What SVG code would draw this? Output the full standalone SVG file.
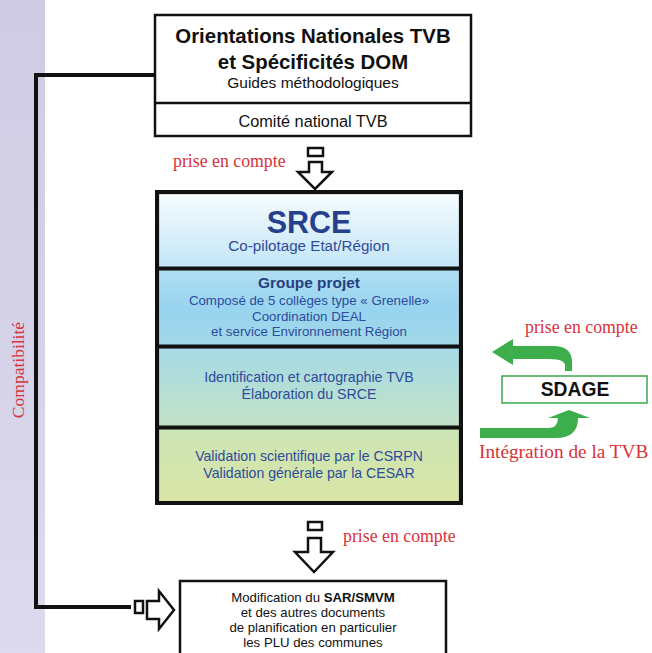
<svg xmlns="http://www.w3.org/2000/svg" width="652" height="653" viewBox="0 0 652 653">
<defs>
<linearGradient id="band" x1="0" y1="0" x2="0" y2="1"><stop offset="0" stop-color="#cecbe3"/><stop offset="1" stop-color="#dcdaec"/></linearGradient>
<linearGradient id="g1" x1="0" y1="0" x2="0" y2="1"><stop offset="0" stop-color="#f6fcff"/><stop offset="1" stop-color="#c2e5f7"/></linearGradient>
<linearGradient id="g2" x1="0" y1="0" x2="0" y2="1"><stop offset="0" stop-color="#b0def3"/><stop offset="0.5" stop-color="#98d4f0"/><stop offset="1" stop-color="#a2d8e8"/></linearGradient>
<linearGradient id="g3" x1="0" y1="0" x2="0" y2="1"><stop offset="0" stop-color="#a6dae6"/><stop offset="1" stop-color="#c2e2c6"/></linearGradient>
<linearGradient id="g4" x1="0" y1="0" x2="0" y2="1"><stop offset="0" stop-color="#cde5b6"/><stop offset="1" stop-color="#d9e5a4"/></linearGradient>
</defs>
<style>
.sans{font-family:"Liberation Sans",Arial,sans-serif}
.serif{font-family:"Liberation Serif","Times New Roman",serif;fill:#d8323a}
.blk{fill:#111}
.blue{fill:#2d4b9c}
.box{fill:#fff;stroke:#111;stroke-width:2.5}
.arr{fill:#fff;stroke:#111;stroke-width:2.5;stroke-linejoin:miter}
.green{fill:#3cae4b}
.sec{stroke:#9a9a9a;stroke-width:0.6}
</style>
<rect x="0" y="0" width="45" height="653" fill="url(#band)"/>
<text class="serif" font-size="17.5" transform="translate(24,370) rotate(-90)" text-anchor="middle">Compatibilité</text>

<g id="connectors">
<path d="M154,75 H36 V607 H131" fill="none" stroke="#111" stroke-width="4"/>
<rect class="arr" x="308" y="148" width="15" height="8" stroke-width="2"/>
<path class="arr" d="M309,162 H322 V172 H332 L315,189 L298,172 H309 Z"/>
<rect class="arr" x="308" y="522" width="14" height="8" stroke-width="2"/>
<path class="arr" d="M308,538 H321 V552 H333 L314,572 L295,552 H308 Z"/>
<rect class="arr" x="135" y="601" width="8" height="12" stroke-width="2"/>
<path class="arr" d="M147,601 H159 V591 L174,610 L159,629 V619 H147 Z"/>
<path class="green" d="M492,352 L513,339 V346 H553 Q572,346 572,362 V371 H565 V366 Q565,359 550,359 H513 V365 Z"/>
<path class="green" d="M480,428 H548 Q558,428 558,418 H548 L569,410 L590,418 H578 Q578,438 556,438 H480 Z"/>
</g>

<g id="top">
<rect class="box" x="155" y="15" width="316" height="121"/>
<line x1="155" y1="103" x2="471" y2="103" stroke="#111" stroke-width="2.5"/>
<text class="sans blk" x="313" y="43" font-size="20.4" font-weight="bold" text-anchor="middle">Orientations Nationales TVB</text>
<text class="sans blk" x="313" y="69" font-size="20.4" font-weight="bold" text-anchor="middle">et Spécificités DOM</text>
<text class="sans blk" x="313" y="88" font-size="15.5" text-anchor="middle">Guides méthodologiques</text>
<text class="sans blk" x="313" y="127" font-size="16.3" text-anchor="middle">Comité national TVB</text>
</g>
<text class="serif" x="173" y="167" font-size="17.8">prise en compte</text>

<g id="srce">
<rect class="sec" x="159" y="194" width="300" height="74" fill="url(#g1)"/>
<rect class="sec" x="159" y="270" width="300" height="76" fill="url(#g2)"/>
<rect class="sec" x="159" y="348" width="300" height="79" fill="url(#g3)"/>
<rect class="sec" x="159" y="429" width="300" height="73" fill="url(#g4)"/>
<rect x="157" y="192" width="304" height="311" fill="none" stroke="#111" stroke-width="4"/>
<line x1="157" y1="268.5" x2="461" y2="268.5" stroke="#111" stroke-width="4"/>
<line x1="157" y1="346.5" x2="461" y2="346.5" stroke="#111" stroke-width="4"/>
<line x1="157" y1="427.5" x2="461" y2="427.5" stroke="#111" stroke-width="4"/>
<text class="sans" x="309" y="233" font-size="30.5" font-weight="bold" fill="#26408e" text-anchor="middle">SRCE</text>
<text class="sans blue" x="309" y="251" font-size="15.2" text-anchor="middle">Co-pilotage Etat/Région</text>
<text class="sans" x="309" y="288" font-size="15.4" font-weight="bold" fill="#27407f" text-anchor="middle">Groupe projet</text>
<text class="sans blue" x="309" y="305" font-size="13.3" text-anchor="middle">Composé de 5 collèges type « Grenelle»</text>
<text class="sans blue" x="309" y="321" font-size="13.3" text-anchor="middle">Coordination DEAL</text>
<text class="sans blue" x="309" y="336" font-size="13.3" text-anchor="middle">et service Environnement Région</text>
<text class="sans blue" x="309" y="382" font-size="14.2" text-anchor="middle">Identification et cartographie TVB</text>
<text class="sans blue" x="309" y="399" font-size="14.2" text-anchor="middle">Élaboration du SRCE</text>
<text class="sans blue" x="309" y="461" font-size="14.1" text-anchor="middle">Validation scientifique par le CSRPN</text>
<text class="sans blue" x="309" y="478" font-size="14.1" text-anchor="middle">Validation générale par la CESAR</text>
</g>

<g id="sdage">
<rect x="502" y="376" width="145" height="27" fill="#fff" stroke="#3aa84a" stroke-width="1.5"/>
<text class="sans blk" x="575" y="396" font-size="19.3" font-weight="bold" text-anchor="middle">SDAGE</text>
</g>
<text class="serif" x="525" y="333" font-size="17.8">prise en compte</text>
<text class="serif" x="479" y="458" font-size="19.3">Intégration de la TVB</text>
<text class="serif" x="343" y="542" font-size="17.8">prise en compte</text>

<g id="bottom">
<rect x="180" y="581" width="266" height="80" fill="#fff" stroke="#111" stroke-width="2.5"/>
<text class="sans blk" x="313" y="602" font-size="13.2" text-anchor="middle">Modification du <tspan font-weight="bold">SAR/SMVM</tspan></text>
<text class="sans blk" x="313" y="617" font-size="13.2" text-anchor="middle">et des autres documents</text>
<text class="sans blk" x="313" y="632" font-size="13.2" text-anchor="middle">de planification en particulier</text>
<text class="sans blk" x="313" y="647" font-size="13.2" text-anchor="middle">les PLU des communes</text>
</g>
</svg>
